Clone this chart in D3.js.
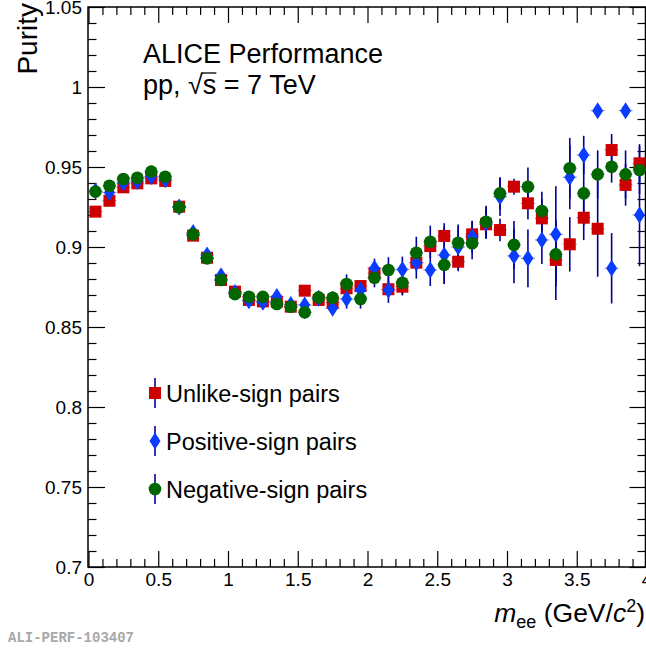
<!DOCTYPE html>
<html>
<head>
<meta charset="utf-8">
<script src="https://cdn.jsdelivr.net/npm/d3@7"></script>
<style>
  body { margin: 0; background: #fff; }
  text { font-family: "Liberation Sans", Arial, Helvetica, sans-serif; fill: #000; }
</style>
</head>
<body>
<div id="chart"></div>
<script>
// pair mass bins (GeV/c^2), bin width 0.1
let massBins = [0.05, 0.15, 0.25, 0.35, 0.45, 0.55, 0.65, 0.75, 0.85, 0.95,
  1.05, 1.15, 1.25, 1.35, 1.45, 1.55, 1.65, 1.75, 1.85, 1.95,
  2.05, 2.15, 2.25, 2.35, 2.45, 2.55, 2.65, 2.75, 2.85, 2.95,
  3.05, 3.15, 3.25, 3.35, 3.45, 3.55, 3.65, 3.75, 3.85, 3.95];

let unlikePurity = [0.9221, 0.9289, 0.9373, 0.9398, 0.9429, 0.9413, 0.9252, 0.9071, 0.8933, 0.8794,
  0.8721, 0.8669, 0.8660, 0.8658, 0.8627, 0.8727, 0.8669, 0.8652, 0.8742, 0.8756,
  0.8836, 0.8736, 0.8752, 0.8902, 0.9006, 0.9069, 0.8908, 0.9079, 0.9142, 0.9106,
  0.9377, 0.9273, 0.9179, 0.8919, 0.9017, 0.9183, 0.9114, 0.9606, 0.9388, 0.9523];
let unlikeErr = [0.0012, 0.0012, 0.0012, 0.0012, 0.0012, 0.0012, 0.0012, 0.0012, 0.0012, 0.0012,
  0.0012, 0.0012, 0.0012, 0.0012, 0.002, 0.003, 0.003, 0.003, 0.003, 0.003,
  0.005, 0.005, 0.005, 0.005, 0.005, 0.008, 0.006, 0.008, 0.008, 0.007,
  0.005, 0.010, 0.012, 0.025, 0.017, 0.014, 0.030, 0.010, 0.013, 0.012];

let positivePurity = [0.935, 0.934, 0.940, 0.941, 0.944, 0.942, 0.925, 0.909, 0.895, 0.882,
  0.8715, 0.8664, 0.8655, 0.869, 0.864, 0.8638, 0.868, 0.8617, 0.8675, 0.8731,
  0.8867, 0.8731, 0.886, 0.8902, 0.8856, 0.895, 0.900, 0.9064, 0.915, 0.9314,
  0.8944, 0.8929, 0.9044, 0.9079, 0.9436, 0.9575, 0.9852, 0.8867, 0.9852, 0.920];
let positiveErr = [0.0017, 0.0017, 0.0017, 0.0017, 0.0017, 0.0017, 0.0017, 0.0017, 0.0017, 0.0017,
  0.002, 0.002, 0.002, 0.002, 0.002, 0.004, 0.004, 0.004, 0.006, 0.006,
  0.006, 0.008, 0.008, 0.010, 0.010, 0.018, 0.014, 0.010, 0.010, 0.012,
  0.017, 0.018, 0.015, 0.030, 0.020, 0.012, 0, 0.022, 0, 0.032];

let negativePurity = [0.9346, 0.9383, 0.9425, 0.9433, 0.9471, 0.9439, 0.9248, 0.9079, 0.8929, 0.8794,
  0.8706, 0.8689, 0.8688, 0.8644, 0.8627, 0.8592, 0.8685, 0.8683, 0.8769, 0.8675,
  0.8808, 0.8856, 0.8777, 0.8964, 0.9033, 0.8888, 0.9027, 0.9023, 0.9158, 0.9335,
  0.9013, 0.9377, 0.9225, 0.8954, 0.9492, 0.9335, 0.9454, 0.9502, 0.9454, 0.9481];
let negativeErr = [0.0017, 0.0017, 0.0017, 0.0017, 0.0017, 0.0017, 0.0017, 0.0017, 0.0017, 0.0017,
  0.002, 0.002, 0.002, 0.002, 0.002, 0.004, 0.004, 0.004, 0.006, 0.006,
  0.006, 0.008, 0.008, 0.010, 0.010, 0.012, 0.010, 0.010, 0.010, 0.010,
  0.015, 0.012, 0.012, 0.020, 0.019, 0.020, 0.015, 0.010, 0.015, 0.015];

let legendLabels = ["Unlike-sign pairs", "Positive-sign pairs", "Negative-sign pairs"];
let xTicks = [0, 0.5, 1, 1.5, 2, 2.5, 3, 3.5, 4];
let yTicks = [0.7, 0.75, 0.8, 0.85, 0.9, 0.95, 1, 1.05];

let svgWidth = 646, svgHeight = 650;
let frameL = 88, frameR = 645.5, frameT = 7, frameB = 567;
let errColor = "#000099";

let svg = d3.select("#chart").append("svg")
  .attr("width", svgWidth)
  .attr("height", svgHeight);

let x = d3.scaleLinear().domain([0, 4]).range([88.5, 646.5]);
let y = d3.scaleLinear().domain([0.7, 1.05]).range([frameB, frameT]);

let fmt = d => String(+d.toFixed(2));
let xMinor = d3.range(0, 4.001, 0.1).map(d => +d.toFixed(2)).filter(d => !xTicks.includes(d));
let yMinor = d3.range(0.7, 1.0501, 0.01).map(d => +d.toFixed(2)).filter(d => !yTicks.includes(d));

function styleAxis(g) {
  g.select(".domain").remove();
  g.selectAll("line").attr("stroke", "#000").attr("stroke-width", 1.2);
  g.selectAll("text").style("font-size", "19px").attr("fill", "#000");
}

// left axis
svg.append("g").attr("transform", `translate(${frameL},0)`)
  .call(d3.axisLeft(y).tickValues(yTicks).tickFormat(fmt).tickSizeInner(-17).tickSizeOuter(0).tickPadding(6))
  .call(styleAxis);
svg.append("g").attr("transform", `translate(${frameL},0)`)
  .call(d3.axisLeft(y).tickValues(yMinor).tickFormat("").tickSizeInner(-8.5).tickSizeOuter(0))
  .call(styleAxis);
// right axis
svg.append("g").attr("transform", `translate(${frameR},0)`)
  .call(d3.axisRight(y).tickValues(yTicks).tickFormat("").tickSizeInner(-16).tickSizeOuter(0))
  .call(styleAxis);
svg.append("g").attr("transform", `translate(${frameR},0)`)
  .call(d3.axisRight(y).tickValues(yMinor).tickFormat("").tickSizeInner(-8).tickSizeOuter(0))
  .call(styleAxis);
// bottom axis
svg.append("g").attr("transform", `translate(0,${frameB})`)
  .call(d3.axisBottom(x).tickValues(xTicks).tickFormat(fmt).tickSizeInner(-16).tickSizeOuter(0).tickPadding(6))
  .call(styleAxis);
svg.append("g").attr("transform", `translate(0,${frameB})`)
  .call(d3.axisBottom(x).tickValues(xMinor).tickFormat("").tickSizeInner(-8).tickSizeOuter(0))
  .call(styleAxis);
// top axis
svg.append("g").attr("transform", `translate(0,${frameT})`)
  .call(d3.axisTop(x).tickValues(xTicks).tickFormat("").tickSizeInner(-16).tickSizeOuter(0))
  .call(styleAxis);
svg.append("g").attr("transform", `translate(0,${frameT})`)
  .call(d3.axisTop(x).tickValues(xMinor).tickFormat("").tickSizeInner(-8).tickSizeOuter(0))
  .call(styleAxis);

// frame
svg.append("rect")
  .attr("x", frameL).attr("y", frameT)
  .attr("width", frameR - frameL).attr("height", frameB - frameT)
  .attr("fill", "none").attr("stroke", "#000").attr("stroke-width", 1.5);

// build series
let series = [
  { name: legendLabels[0], vals: unlikePurity, errs: unlikeErr, shape: "square", color: "#cc0000" },
  { name: legendLabels[1], vals: positivePurity, errs: positiveErr, shape: "diamond", color: "#0a3cff" },
  { name: legendLabels[2], vals: negativePurity, errs: negativeErr, shape: "circle", color: "#006600" }
];
series.forEach(s => {
  s.points = massBins.map((m, i) => ({ m: m, v: s.vals[i], e: s.errs[i] }));
});

function drawMarker(g, shape, color) {
  if (shape == "square") {
    g.append("rect").attr("x", -6).attr("y", -6).attr("width", 12).attr("height", 12).attr("fill", color);
  } else if (shape == "diamond") {
    g.append("path").attr("d", "M0,-8.5L5.5,0L0,8.5L-5.5,0Z").attr("fill", color);
  } else {
    g.append("circle").attr("r", 6.3).attr("fill", color);
  }
}

let plot = svg.append("g");

// error bars first
series.forEach(s => {
  let eg = plot.append("g");
  eg.selectAll(".ey")
    .data(s.points)
    .enter()
    .append("line")
    .attr("x1", d => x(d.m)).attr("x2", d => x(d.m))
    .attr("y1", d => y(d.v + d.e)).attr("y2", d => y(d.v - d.e))
    .attr("stroke", errColor).attr("stroke-width", 1.6);
  eg.selectAll(".ex")
    .data(s.points)
    .enter()
    .append("line")
    .attr("x1", d => x(d.m - 0.05)).attr("x2", d => x(d.m + 0.05))
    .attr("y1", d => y(d.v)).attr("y2", d => y(d.v))
    .attr("stroke", errColor).attr("stroke-opacity", 0.5).attr("stroke-width", 1);
});

// markers
series.forEach(s => {
  plot.append("g").selectAll("g")
    .data(s.points)
    .enter()
    .append("g")
    .attr("transform", d => `translate(${x(d.m)},${y(d.v)})`)
    .each(function () { drawMarker(d3.select(this), s.shape, s.color); });
});

// legend
let legendY = [393, 441, 489];
series.forEach((s, i) => {
  let lg = svg.append("g").attr("transform", `translate(155,${legendY[i]})`);
  lg.append("line").attr("y1", -15).attr("y2", 15).attr("stroke", errColor).attr("stroke-width", 1.6);
  drawMarker(lg, s.shape, s.color);
  lg.append("text").attr("x", 11).attr("y", 8.5).style("font-size", "23.5px").text(s.name);
});

// labels
svg.append("text").attr("x", 143).attr("y", 63).style("font-size", "27px").text("ALICE Performance");
let pp = svg.append("text").attr("x", 143).attr("y", 94).style("font-size", "27px").text("pp, \u221As = 7 TeV");
// overline of the square root
let sBox = pp.node().getExtentOfChar(5);
let rBox = pp.node().getExtentOfChar(4);
svg.append("line")
  .attr("x1", rBox.x + rBox.width - 1.5).attr("x2", sBox.x + sBox.width)
  .attr("y1", rBox.y + 3).attr("y2", rBox.y + 3)
  .attr("stroke", "#000").attr("stroke-width", 1.3);

svg.append("text")
  .attr("transform", "translate(37,3) rotate(-90)")
  .attr("text-anchor", "end")
  .style("font-size", "28px")
  .text("Purity");

let xt = svg.append("text").attr("x", 645).attr("y", 622).attr("text-anchor", "end").style("font-size", "26.5px");
xt.append("tspan").style("font-style", "italic").text("m");
xt.append("tspan").attr("dy", 6).style("font-size", "18px").text("ee");
xt.append("tspan").attr("dy", -6).text(" (GeV/");
xt.append("tspan").style("font-style", "italic").text("c");
xt.append("tspan").attr("dy", -10).style("font-size", "18px").text("2");
xt.append("tspan").attr("dy", 10).text(")");

svg.append("text").attr("x", 8).attr("y", 642)
  .style("font-family", "'Liberation Mono', 'DejaVu Sans Mono', monospace")
  .style("font-weight", "bold").style("font-size", "14px")
  .style("fill", "#a8a8a8")
  .text("ALI-PERF-103407");
</script>
</body>
</html>
